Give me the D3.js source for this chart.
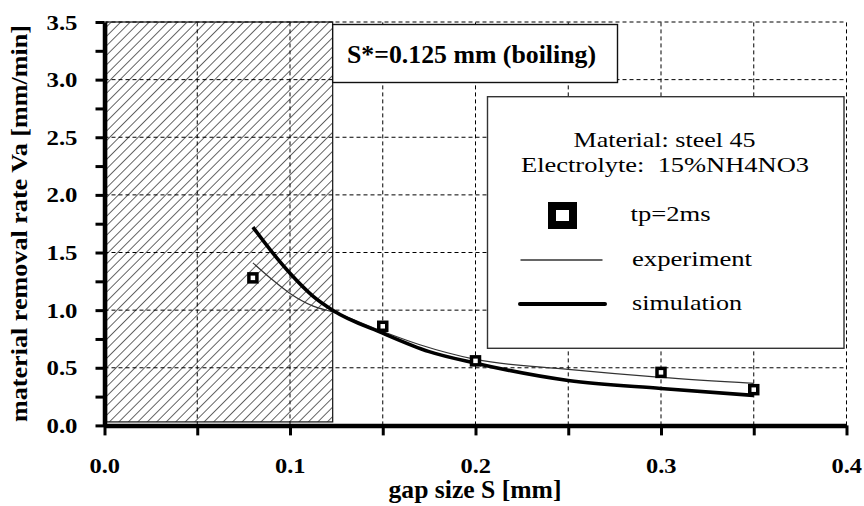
<!DOCTYPE html>
<html>
<head>
<meta charset="utf-8">
<script src="https://cdn.jsdelivr.net/npm/d3@7"></script>
<style>
  body { margin: 0; background: #fff; }
  svg { display: block; }
  text { font-family: "Liberation Serif", "Times New Roman", serif; fill: #000; }
</style>
</head>
<body>
<script>
// valeurs
var pointGap  = [0.08, 0.15, 0.2, 0.3, 0.35];
var pointRate = [1.28, 0.86, 0.56, 0.46, 0.31];

var expGap  = [0.08, 0.09, 0.1, 0.1125, 0.123, 0.15, 0.17, 0.2, 0.25, 0.3, 0.35];
var expRate = [1.41, 1.27, 1.145, 1.035, 0.985, 0.815, 0.70, 0.573, 0.486, 0.417, 0.365];

var simGap  = [0.08, 0.09, 0.1, 0.1125, 0.123, 0.15, 0.175, 0.2, 0.25, 0.3, 0.35];
var simRate = [1.72, 1.51, 1.32, 1.12, 1.0, 0.80, 0.64, 0.54, 0.39, 0.32, 0.26];

var boilingGap = 0.123;

var xTicks = [0, 0.05, 0.1, 0.15, 0.2, 0.25, 0.3, 0.35, 0.4];
var xLabels = [0, 0.1, 0.2, 0.3, 0.4];
var yTicks = [0, 0.25, 0.5, 0.75, 1, 1.25, 1.5, 1.75, 2, 2.25, 2.5, 2.75, 3, 3.25, 3.5];
var yLabels = [0, 0.5, 1, 1.5, 2, 2.5, 3, 3.5];

var width = 864;
var height = 506;

var svg = d3.select("body")
    .append("svg")
    .attr("width", width)
    .attr("height", height);

var xscale = d3.scaleLinear().domain([0, 0.4]).range([104.5, 846.5]);
var yscale = d3.scaleLinear().domain([0, 3.5]).range([425.4, 22]);

// motif hachuré
var defs = svg.append("defs");
defs.append("pattern")
    .attr("id", "hatch")
    .attr("patternUnits", "userSpaceOnUse")
    .attr("width", 6.7)
    .attr("height", 6.7)
    .attr("patternTransform", "rotate(45)")
    .append("line")
    .attr("x1", 0).attr("y1", 0)
    .attr("x2", 0).attr("y2", 6.7)
    .attr("stroke", "#000")
    .attr("stroke-width", 1.2);

// zone d'ébullition
svg.append("rect")
    .attr("x", xscale(0) + 2)
    .attr("y", yscale(3.5))
    .attr("width", xscale(boilingGap) - xscale(0) - 2)
    .attr("height", yscale(0) - yscale(3.5) - 3.5)
    .attr("fill", "url(#hatch)")
    .attr("stroke", "#222")
    .attr("stroke-width", 1.3);

// grille pointillée
svg.append("g")
    .selectAll("line")
    .data(xTicks.slice(1))
    .enter()
    .append("line")
    .attr("x1", function (d) { return xscale(d); })
    .attr("x2", function (d) { return xscale(d); })
    .attr("y1", yscale(0))
    .attr("y2", yscale(3.5))
    .attr("stroke", "#000")
    .attr("stroke-width", 1)
    .attr("stroke-dasharray", "4,3");

svg.append("g")
    .selectAll("line")
    .data(yLabels.slice(1))
    .enter()
    .append("line")
    .attr("x1", xscale(0))
    .attr("x2", xscale(0.4))
    .attr("y1", function (d) { return yscale(d); })
    .attr("y2", function (d) { return yscale(d); })
    .attr("stroke", "#000")
    .attr("stroke-width", 1)
    .attr("stroke-dasharray", "4,3");

// boîte S*
svg.append("rect")
    .attr("x", xscale(boilingGap))
    .attr("y", 24.5)
    .attr("width", 617.5 - xscale(boilingGap))
    .attr("height", 58)
    .attr("fill", "#fff")
    .attr("stroke", "#111")
    .attr("stroke-width", 1.4);

svg.append("text")
    .attr("x", 347)
    .attr("y", 62.5)
    .attr("font-size", 25)
    .attr("font-weight", "bold")
    .attr("textLength", 249)
    .attr("lengthAdjust", "spacingAndGlyphs")
    .text("S*=0.125 mm (boiling)");

// légende
svg.append("rect")
    .attr("x", 487.5)
    .attr("y", 96.7)
    .attr("width", 356.5)
    .attr("height", 251.6)
    .attr("fill", "#fff")
    .attr("stroke", "#333")
    .attr("stroke-width", 1.4);

var legendTexts = [
    { t: "Material: steel 45", x: 573.5, y: 146.7, w: 182 },
    { t: "Electrolyte:  15%NH4NO3", x: 521, y: 172.3, w: 288 },
    { t: "tp=2ms", x: 630.5, y: 221, w: 80 },
    { t: "experiment", x: 632, y: 266, w: 120 },
    { t: "simulation", x: 632, y: 310, w: 110 }
];

svg.append("g")
    .selectAll("text")
    .data(legendTexts)
    .enter()
    .append("text")
    .attr("x", function (d) { return d.x; })
    .attr("y", function (d) { return d.y; })
    .attr("font-size", 22)
    .attr("textLength", function (d) { return d.w; })
    .attr("lengthAdjust", "spacingAndGlyphs")
    .attr("xml:space", "preserve")
    .text(function (d) { return d.t; });

svg.append("rect")
    .attr("x", 552)
    .attr("y", 206)
    .attr("width", 21)
    .attr("height", 19)
    .attr("fill", "#fff")
    .attr("stroke", "#000")
    .attr("stroke-width", 8);

svg.append("line")
    .attr("x1", 520.5).attr("x2", 602.5)
    .attr("y1", 260).attr("y2", 260)
    .attr("stroke", "#333")
    .attr("stroke-width", 1.3);

svg.append("line")
    .attr("x1", 520).attr("x2", 605)
    .attr("y1", 304).attr("y2", 304)
    .attr("stroke", "#000")
    .attr("stroke-width", 4)
    .attr("stroke-linecap", "round");

// courbes
var expData = expGap.map(function (g, i) { return { gap: g, rate: expRate[i] }; });
var simData = simGap.map(function (g, i) { return { gap: g, rate: simRate[i] }; });
var ptData = pointGap.map(function (g, i) { return { gap: g, rate: pointRate[i] }; });

var line = d3.line()
    .x(function (d) { return xscale(d.gap); })
    .y(function (d) { return yscale(d.rate); })
    .curve(d3.curveMonotoneX);

svg.append("path")
    .datum(expData)
    .attr("d", line)
    .attr("fill", "none")
    .attr("stroke", "#333")
    .attr("stroke-width", 1.2);

svg.append("path")
    .datum(simData)
    .attr("d", line)
    .attr("fill", "none")
    .attr("stroke", "#000")
    .attr("stroke-width", 3.6);

svg.append("g")
    .selectAll("rect")
    .data(ptData)
    .enter()
    .append("rect")
    .attr("x", function (d) { return xscale(d.gap) - 4; })
    .attr("y", function (d) { return yscale(d.rate) - 4; })
    .attr("width", 8)
    .attr("height", 8)
    .attr("fill", "#fff")
    .attr("stroke", "#000")
    .attr("stroke-width", 3.5);

// axes
var y_axis = d3.axisLeft(yscale)
    .tickValues(yTicks)
    .tickSize(9)
    .tickSizeOuter(0)
    .tickFormat("");

var gy = svg.append("g")
    .attr("transform", "translate(" + xscale(0) + ",0)")
    .call(y_axis);
gy.select(".domain").attr("stroke-width", 4.5);
gy.selectAll(".tick line").attr("stroke-width", 3);

var x_axis = d3.axisBottom(xscale)
    .tickValues(xTicks)
    .tickSize(10)
    .tickSizeOuter(0)
    .tickFormat("");

var gx = svg.append("g")
    .attr("transform", "translate(0," + yscale(0) + ")")
    .call(x_axis);
gx.select(".domain").attr("stroke-width", 4.5);
gx.selectAll(".tick line").attr("stroke-width", 3);

// étiquettes
svg.append("g")
    .selectAll("text")
    .data(yLabels)
    .enter()
    .append("text")
    .attr("x", 77.5)
    .attr("y", function (d) { return yscale(d) + 7.5; })
    .attr("text-anchor", "end")
    .attr("font-size", 22)
    .attr("font-weight", "bold")
    .attr("textLength", 31)
    .attr("lengthAdjust", "spacingAndGlyphs")
    .text(function (d) { return d.toFixed(1); });

svg.append("g")
    .selectAll("text")
    .data(xLabels)
    .enter()
    .append("text")
    .attr("x", function (d) { return xscale(d) - 15; })
    .attr("y", 473.3)
    .attr("font-size", 22)
    .attr("font-weight", "bold")
    .attr("textLength", 30.5)
    .attr("lengthAdjust", "spacingAndGlyphs")
    .text(function (d) { return d.toFixed(1); });

svg.append("text")
    .attr("x", 388.5)
    .attr("y", 498)
    .attr("font-size", 25)
    .attr("font-weight", "bold")
    .attr("textLength", 173)
    .attr("lengthAdjust", "spacingAndGlyphs")
    .text("gap size S [mm]");

svg.append("text")
    .attr("transform", "translate(27,422) rotate(-90)")
    .attr("font-size", 24)
    .attr("font-weight", "bold")
    .attr("textLength", 397)
    .attr("lengthAdjust", "spacingAndGlyphs")
    .text("material removal rate Va [mm/min]");
</script>
</body>
</html>
